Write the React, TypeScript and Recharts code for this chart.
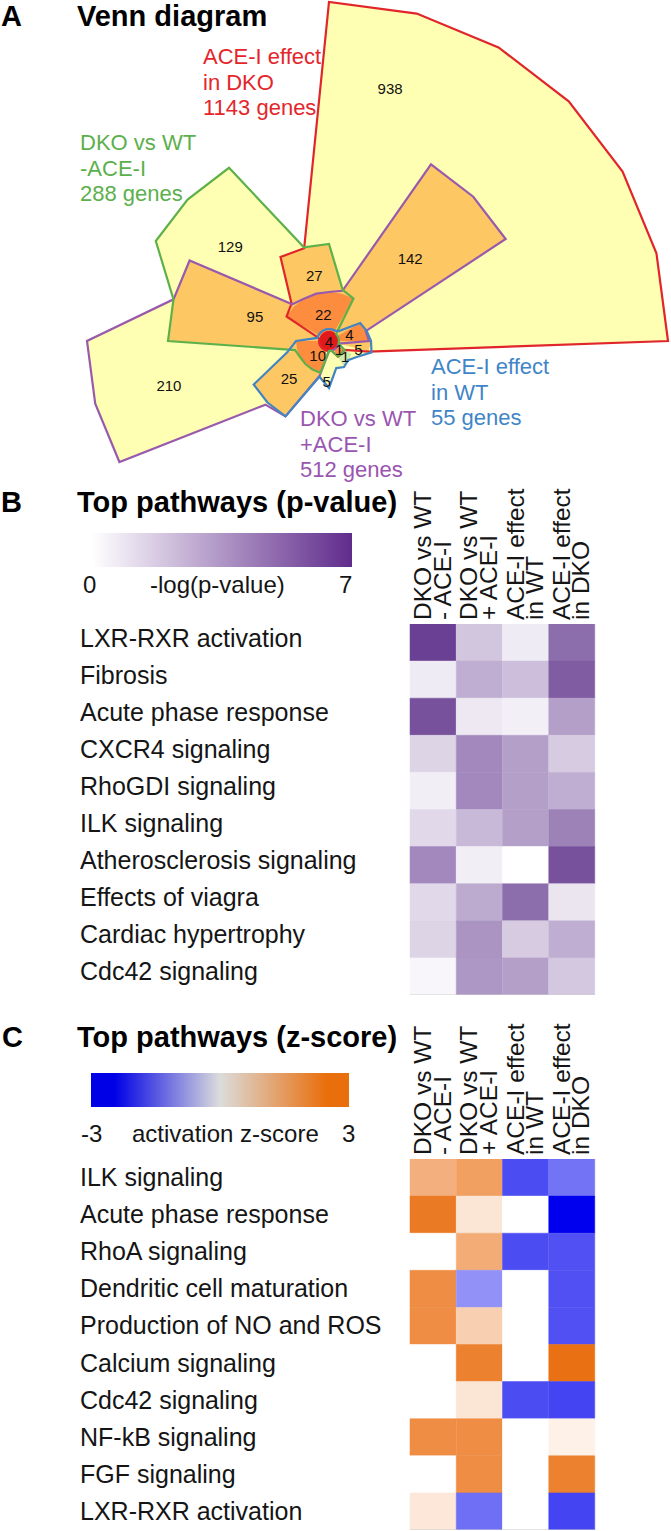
import React from "react";
import {
  RadarChart,
  Radar,
  PolarAngleAxis,
  PolarRadiusAxis,
  BarChart,
  Bar,
  XAxis,
  YAxis,
  Cell,
  ReferenceLine,
} from "recharts";

const FONT = "'Liberation Sans', Arial, Helvetica, sans-serif";

// ---------------- Panel A : radial Venn diagram (radius per 15° spoke) ----------------
const spokeAngles = [0, 15, 30, 45, 60, 75, 90, 105, 120, 135, 150, 165, 180, 195, 210, 225, 240, 255, 270, 285, 300, 315, 330, 345];

// set outlines
const setRed = [339, 339, 339, 339, 339, 339, 339, 96, 97, 53, 49, 10, 10, 10, 10, 10, 10, 10, 10, 10, 18, 18, 18, 41];
const setGreen = [10, 10, 10, 10, 49, 53, 97, 97, 200, 200, 200, 161, 161, 35, 33, 33, 33, 33, 10, 10, 18, 18, 18, 10];
const setPurple = [40, 38, 204, 204, 204, 52, 49, 49, 49, 52, 161, 161, 242, 242, 242, 90, 87, 36, 10, 10, 10, 10, 10, 10];
const setBlue = [42, 39, 36, 14, 12, 12, 12, 12, 12, 12, 12, 12, 33, 43, 87, 87, 87, 37, 47, 28, 30, 27, 32, 44];

// overlap regions
const regionB1 = [0, 0, 0, 0, 0, 0, 0, 0, 0, 0, 0, 0, 0, 0, 0, 0, 0, 0, 0, 0, 28, 28, 26, 0];
const regionRP142 = [0, 35, 204, 204, 204, 52, 0, 0, 0, 0, 0, 0, 0, 0, 0, 0, 0, 0, 0, 0, 0, 0, 0, 0];
const regionRG27 = [0, 0, 0, 0, 0, 53, 97, 97, 97, 53, 0, 0, 0, 0, 0, 0, 0, 0, 0, 0, 0, 0, 0, 0];
const regionGP95 = [0, 0, 0, 0, 0, 0, 0, 0, 0, 52, 161, 161, 161, 35, 0, 0, 0, 0, 0, 0, 0, 0, 0, 0];
const regionPB25 = [0, 0, 0, 0, 0, 0, 0, 0, 0, 0, 0, 0, 0, 43, 87, 87, 87, 36, 0, 0, 0, 0, 0, 0];
const regionRB5 = [42, 0, 0, 0, 0, 0, 0, 0, 0, 0, 0, 0, 0, 0, 0, 0, 0, 0, 0, 0, 0, 0, 0, 41];
const regionRGP22 = [0, 0, 0, 0, 49, 49, 49, 49, 49, 49, 49, 0, 0, 0, 0, 0, 0, 0, 0, 0, 0, 0, 0, 0];
const regionGPB10 = [0, 0, 0, 0, 0, 0, 0, 0, 0, 0, 0, 0, 33, 33, 33, 33, 33, 33, 0, 0, 0, 0, 0, 0];
const regionRPB4 = [40, 38, 36, 0, 0, 0, 0, 0, 0, 0, 0, 0, 0, 0, 0, 0, 0, 0, 0, 0, 0, 0, 0, 0];
const regionRGB1 = [0, 0, 0, 0, 0, 0, 0, 0, 0, 0, 0, 0, 0, 0, 0, 0, 0, 0, 0, 0, 18, 18, 18, 0];
const regionAll4 = [10, 10, 10, 10, 10, 10, 10, 10, 10, 10, 10, 10, 10, 10, 10, 10, 10, 10, 10, 10, 10, 10, 10, 10];

// region counts and their label placement (angle in degrees, radius in radial units)
const vennCounts = [938, 142, 129, 95, 210, 27, 22, 25, 10, 4, 4, 5, 1, 1, 5];
const vennLabelAngles = [76.4, 45.6, 136.1, 161.8, 195.4, 102.7, 102, 223.5, 232.4, 0, 19, 344.2, 321, 315.5, 266.8];
const vennLabelRadii = [260, 116, 137, 78, 166, 67, 27, 55, 18.5, 0, 21.5, 30.5, 13, 22.5, 41];

const vennSetNames = [
  ["ACE-I effect", "in DKO", "1143 genes"],
  ["DKO vs WT", "-ACE-I", "288 genes"],
  ["ACE-I effect", "in WT", "55 genes"],
  ["DKO vs WT", "+ACE-I", "512 genes"],
];

// ---------------- Panel B ----------------
const pathwaysB = [
  "LXR-RXR activation",
  "Fibrosis",
  "Acute phase response",
  "CXCR4 signaling",
  "RhoGDI signaling",
  "ILK signaling",
  "Atherosclerosis signaling",
  "Effects of viagra",
  "Cardiac hypertrophy",
  "Cdc42 signaling",
];
const logP_DKOvsWT_noACEI = [6.6, 0.7, 6.0, 1.5, 0.6, 1.3, 4.1, 1.3, 1.5, 0.3];
const logP_DKOvsWT_ACEI = [2.0, 2.8, 0.8, 4.1, 4.1, 2.4, 0.6, 2.9, 3.7, 3.6];
const logP_ACEI_WT = [0.7, 2.2, 0.55, 3.3, 3.3, 3.3, 0, 5.0, 1.8, 3.3];
const logP_ACEI_DKO = [5.0, 5.6, 3.3, 1.8, 2.8, 4.3, 6.0, 0.9, 2.8, 1.9];

// ---------------- Panel C ----------------
const pathwaysC = [
  "ILK signaling",
  "Acute phase response",
  "RhoA signaling",
  "Dendritic cell maturation",
  "Production of NO and ROS",
  "Calcium signaling",
  "Cdc42 signaling",
  "NF-kB signaling",
  "FGF signaling",
  "LXR-RXR activation",
];
const z_DKOvsWT_noACEI = [1.65, 2.8, null, 2.4, 2.4, null, null, 2.4, null, 0.5];
const z_DKOvsWT_ACEI = [2.0, 0.55, 1.75, -1.3, 1.0, 2.65, 0.55, 2.4, 2.4, -1.7];
const z_ACEI_WT = [-2.1, null, -2.1, null, null, null, -2.1, null, null, null];
const z_ACEI_DKO = [-1.65, -3, -2.05, -2.05, -2.05, 3.0, -2.2, 0.3, 2.65, -2.2];

const conditionKeys = ["c1", "c2", "c3", "c4"];
const conditionLines = [
  ["DKO vs WT", "- ACE-I"],
  ["DKO vs WT", "+ ACE-I"],
  ["ACE-I effect", "in WT"],
  ["ACE-I effect", "in DKO"],
];

// ---------------- styles ----------------
const YELLOW = "#ffffb4";
const ORANGE2 = "#fdc764";
const ORANGE3 = "#fc8d3e";
const RED_FILL = "#e31a1c";
const LIGHT_GREEN = "#d3e9a8";
const RED_S = "#e0262b";
const GREEN_S = "#5eb14a";
const PURPLE_S = "#9a5aac";
const BLUE_S = "#4384c2";
const VENN_CX = 329;
const VENN_CY = 341;

function mix(a: number[], b: number[], t: number) {
  const c = a.map((v, i) => Math.round(v + (b[i] - v) * t));
  return `rgb(${c[0]},${c[1]},${c[2]})`;
}
const WHITE = [255, 255, 255];
const PURPLE_MAX = [96, 52, 140];
const ORANGE_MAX = [234, 112, 20];
const BLUE_MAX = [0, 0, 238];
const colorP = (v: number | null) => (v == null ? "#ffffff" : mix(WHITE, PURPLE_MAX, Math.max(0, Math.min(1, v / 7))));
const colorZ = (v: number | null) => {
  if (v == null) return "#ffffff";
  const t = Math.max(0, Math.min(1, Math.abs(v) / 3));
  return v >= 0 ? mix(WHITE, ORANGE_MAX, t) : mix(WHITE, BLUE_MAX, t);
};

const vennData = spokeAngles.map((angle, i) => ({
  angle,
  red: setRed[i],
  green: setGreen[i],
  purple: setPurple[i],
  blue: setBlue[i],
  b1: regionB1[i],
  rp142: regionRP142[i],
  rg27: regionRG27[i],
  gp95: regionGP95[i],
  pb25: regionPB25[i],
  rb5: regionRB5[i],
  rgp22: regionRGP22[i],
  gpb10: regionGPB10[i],
  rpb4: regionRPB4[i],
  rgb1: regionRGB1[i],
  all4: regionAll4[i],
}));

const fillLayers = [
  { key: "red", fill: YELLOW },
  { key: "green", fill: YELLOW },
  { key: "purple", fill: YELLOW },
  { key: "blue", fill: YELLOW },
  { key: "b1", fill: LIGHT_GREEN },
  { key: "rp142", fill: ORANGE2 },
  { key: "rg27", fill: ORANGE2 },
  { key: "gp95", fill: ORANGE2 },
  { key: "pb25", fill: ORANGE2 },
  { key: "rb5", fill: ORANGE2 },
  { key: "rgp22", fill: ORANGE3 },
  { key: "gpb10", fill: ORANGE3 },
  { key: "rpb4", fill: ORANGE3 },
  { key: "rgb1", fill: ORANGE3 },
  { key: "all4", fill: RED_FILL },
];
const outlineLayers = [
  { key: "red", stroke: RED_S },
  { key: "purple", stroke: PURPLE_S },
  { key: "green", stroke: GREEN_S },
  { key: "blue", stroke: BLUE_S },
];

const setLabelLayout = [
  { x: 203, y: 64, color: "#e4262b" },
  { x: 80, y: 150, color: "#5cb04c" },
  { x: 431, y: 374, color: "#3f85c8" },
  { x: 300, y: 426, color: "#9a55b0" },
];

function Venn() {
  return (
    <>
      <div style={{ position: "absolute", left: 0, top: 0 }}>
        <RadarChart
          width={671}
          height={500}
          data={vennData}
          cx={VENN_CX}
          cy={VENN_CY}
          outerRadius={340}
          startAngle={0}
          endAngle={360}
          margin={{ top: 0, right: 0, bottom: 0, left: 0 }}
        >
          <PolarAngleAxis dataKey="angle" type="number" domain={[0, 360]} tick={false} axisLine={false} />
          <PolarRadiusAxis type="number" domain={[0, 340]} tick={false} axisLine={false} allowDataOverflow />
          {fillLayers.map((l) => (
            <Radar
              key={"f-" + l.key}
              dataKey={l.key}
              fill={l.fill}
              fillOpacity={1}
              stroke="none"
              dot={false}
              activeDot={false}
              isAnimationActive={false}
            />
          ))}
          {outlineLayers.map((l) => (
            <Radar
              key={"o-" + l.key}
              dataKey={l.key}
              fill="none"
              fillOpacity={0}
              stroke={l.stroke}
              strokeWidth={2.2}
              dot={false}
              activeDot={false}
              isAnimationActive={false}
            />
          ))}
        </RadarChart>
      </div>
      <svg width={671} height={500} style={{ position: "absolute", left: 0, top: 0, pointerEvents: "none" }}>
        {vennCounts.map((c, i) => {
          const a = (vennLabelAngles[i] * Math.PI) / 180;
          const x = VENN_CX + vennLabelRadii[i] * Math.cos(a);
          const y = VENN_CY - vennLabelRadii[i] * Math.sin(a);
          return (
            <text key={i} x={x} y={y} dy={5.5} textAnchor="middle" fontSize={15} fontFamily={FONT} fill="#111">
              {c}
            </text>
          );
        })}
        {vennSetNames.map((lines, i) => (
          <g key={i}>
            {lines.map((t, k) => (
              <text
                key={k}
                x={setLabelLayout[i].x}
                y={setLabelLayout[i].y + k * 25.5}
                fontSize={22}
                fontFamily={FONT}
                fill={setLabelLayout[i].color}
              >
                {t}
              </text>
            ))}
          </g>
        ))}
      </svg>
    </>
  );
}

function RowTick(props: any) {
  const { y, payload, labels, dy } = props;
  const i = Math.floor(payload.value);
  return (
    <text x={80} y={y} dy={dy} fontSize={25} fontFamily={FONT} fill="#151515" textAnchor="start">
      {labels[i]}
    </text>
  );
}

function ColTick(props: any) {
  const { x, payload } = props;
  const idx = conditionKeys.indexOf(payload.value);
  const lines = conditionLines[idx] || ["", ""];
  return (
    <g transform={`translate(${x},141) rotate(-90)`}>
      <text x={0} y={-2} fontSize={24.5} fontFamily={FONT} fill="#151515" textAnchor="start">
        {lines[0]}
      </text>
      <text x={0} y={17.5} fontSize={24.5} fontFamily={FONT} fill="#151515" textAnchor="start">
        {lines[1]}
      </text>
    </g>
  );
}

function HeatPanel({ top, labels, columns, colorOf, labelDy }: any) {
  const data = conditionKeys.map((k) => {
    const row: any = { cond: k };
    labels.forEach((_: string, i: number) => (row[`p${i}`] = 1));
    return row;
  });
  return (
    <div style={{ position: "absolute", left: 0, top }}>
      <BarChart
        width={671}
        height={516}
        data={data}
        margin={{ top: 0, right: 76, bottom: 0, left: 0 }}
        barCategoryGap={0}
        barGap={0}
      >
        <XAxis
          dataKey="cond"
          orientation="top"
          height={145}
          axisLine={false}
          tickLine={false}
          interval={0}
          tick={(p: any) => <ColTick {...p} />}
        />
        <YAxis
          type="number"
          domain={[0, labels.length]}
          reversed
          ticks={labels.map((_: string, i: number) => i + 0.5)}
          width={410}
          axisLine={false}
          tickLine={false}
          interval={0}
          allowDataOverflow
          tick={(p: any) => <RowTick {...p} labels={labels} dy={labelDy} />}
        />
        {labels.map((_: string, i: number) => (
          <Bar key={i} dataKey={`p${i}`} stackId="h" isAnimationActive={false}>
            {columns.map((col: (number | null)[], j: number) => (
              <Cell key={j} fill={colorOf(col[i])} stroke={colorOf(col[i])} strokeWidth={0.5} />
            ))}
          </Bar>
        ))}
        <ReferenceLine y={labels.length} stroke="#cfcfcf" strokeWidth={1.2} />
      </BarChart>
    </div>
  );
}

function Titles() {
  return (
    <svg width={671} height={1531} style={{ position: "absolute", left: 0, top: 0, pointerEvents: "none" }}>
      <defs>
        <linearGradient id="gradP" x1="0" x2="1" y1="0" y2="0">
          <stop offset="0%" stopColor="#ffffff" />
          <stop offset="100%" stopColor="rgb(96,44,140)" />
        </linearGradient>
        <linearGradient id="gradZ" x1="0" x2="1" y1="0" y2="0">
          <stop offset="0%" stopColor="#0000e6" />
          <stop offset="9%" stopColor="#0000e6" />
          <stop offset="50%" stopColor="#dcdcdc" />
          <stop offset="91%" stopColor="#e96f0c" />
          <stop offset="100%" stopColor="#e96f0c" />
        </linearGradient>
      </defs>
      <g fontFamily={FONT} fontWeight="bold" fontSize={29} fill="#000">
        <text x={1} y={26}>A</text>
        <text x={77} y={26}>Venn diagram</text>
        <text x={1} y={512}>B</text>
        <text x={77} y={512}>Top pathways (p-value)</text>
        <text x={2} y={1047}>C</text>
        <text x={77} y={1047}>Top pathways (z-score)</text>
      </g>
      <rect x={92} y={533} width={260} height={34} fill="url(#gradP)" />
      <g fontFamily={FONT} fontSize={24} fill="#151515">
        <text x={83} y={593}>0</text>
        <text x={150} y={593}>-log(p-value)</text>
        <text x={339} y={593}>7</text>
      </g>
      <rect x={91} y={1073} width={258} height={34} fill="url(#gradZ)" />
      <g fontFamily={FONT} fontSize={24} fill="#151515">
        <text x={81} y={1142}>-3</text>
        <text x={132} y={1142}>activation z-score</text>
        <text x={342} y={1142}>3</text>
      </g>
    </svg>
  );
}

export default function App() {
  return (
    <div style={{ position: "relative", width: 671, height: 1531, background: "#fff", overflow: "hidden", fontFamily: FONT }}>
      <style>{"body{margin:0}"}</style>
      <Venn />
      <HeatPanel
        top={479}
        labels={pathwaysB}
        columns={[logP_DKOvsWT_noACEI, logP_DKOvsWT_ACEI, logP_ACEI_WT, logP_ACEI_DKO]}
        colorOf={colorP}
        labelDy={4}
      />
      <HeatPanel
        top={1014}
        labels={pathwaysC}
        columns={[z_DKOvsWT_noACEI, z_DKOvsWT_ACEI, z_ACEI_WT, z_ACEI_DKO]}
        colorOf={colorZ}
        labelDy={8.5}
      />
      <Titles />
    </div>
  );
}
